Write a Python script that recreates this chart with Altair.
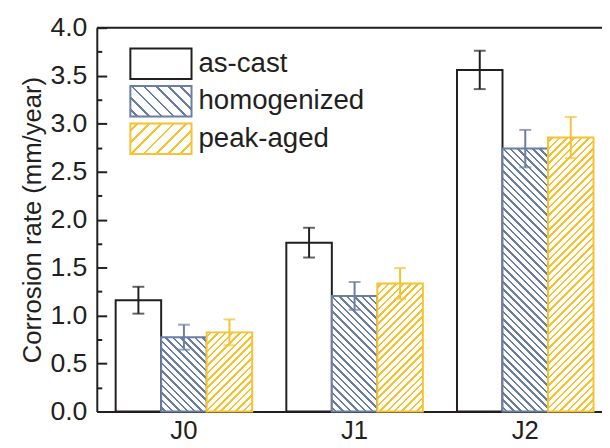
import altair as alt
import pandas as pd
import numpy as np

# ---------------- data ----------------
categories = ["J0", "J1", "J2"]
series = ["as-cast", "homogenized", "peak-aged"]
as_cast = [1.16, 1.76, 3.56]
as_cast_err = [0.14, 0.155, 0.20]
homogenized = [0.775, 1.205, 2.74]
homogenized_err = [0.13, 0.145, 0.195]
peak_aged = [0.825, 1.335, 2.855]
peak_aged_err = [0.135, 0.16, 0.215]
y_ticks = [0.0, 0.5, 1.0, 1.5, 2.0, 2.5, 3.0, 3.5, 4.0]
y_minor = [0.25, 0.75, 1.25, 1.75, 2.25, 2.75, 3.25, 3.75]

rows = []
for s, vals, errs in [("as-cast", as_cast, as_cast_err),
                      ("homogenized", homogenized, homogenized_err),
                      ("peak-aged", peak_aged, peak_aged_err)]:
    for c, v, e in zip(categories, vals, errs):
        rows.append({"cat": c, "series": s, "value": v, "err": e,
                     "lo": v - e, "hi": v + e})
df = pd.DataFrame(rows)

# ---------------- style ----------------
W, H = 512, 389
PAD = {"left": 90, "top": 17, "right": 0, "bottom": 34}
FONT = "Liberation Sans"
DARK = "#231f20"
BLUE = "#6a7ea2"
YELLOW = "#f4c232"
COLORS = {"as-cast": DARK, "homogenized": BLUE, "peak-aged": YELLOW}
P_IN, P_OUT, ALIGN = 0.2, 0.08, 0.69
step = W / (3 - P_IN + 2 * P_OUT)
bar_w = step * (1 - P_IN) / 3
px_per_unit = H / 4.0


def hatch(color, w, h, spacing, thick, kind):
    """Linear gradient with hard stops that draws 45-degree hatch lines."""
    a = (w + h) / (w * w + h * h)
    if kind == "back":   # "\\"
        x1, y1, x2, y2 = 0, 1, a * w, 1 - a * h
    else:                # "/"
        x1, y1, x2, y2 = 0, 0, a * w, a * h
    P = (w + h) / np.sqrt(2)
    stops = [{"offset": 0, "color": "white"}]
    p = spacing * 0.6
    while p - thick / 2 < P:
        t0 = max(0.0, (p - thick / 2) / P)
        t1 = min(1.0, (p + thick / 2) / P)
        for off, col in [(t0, "white"), (t0, color), (t1, color), (t1, "white")]:
            stops.append({"offset": round(off, 5), "color": col})
        p += spacing
    stops.append({"offset": 1, "color": "white"})
    return {"gradient": "linear", "x1": x1, "y1": y1,
            "x2": round(x2, 5), "y2": round(y2, 5), "stops": stops}


x_enc = alt.X("cat:N", title=None, sort=categories,
              scale=alt.Scale(paddingInner=P_IN, paddingOuter=P_OUT, align=ALIGN),
              axis=alt.Axis(orient="bottom", domain=True, domainColor=DARK, domainWidth=2,
                            ticks=False, labelFont=FONT, labelFontSize=26, labelColor=DARK,
                            labelPadding=6, labelAngle=0, grid=False))
xo_enc = alt.XOffset("series:N", sort=series,
                     scale=alt.Scale(domain=series, paddingInner=0, paddingOuter=0))
y_scale = alt.Scale(domain=[0, 4], nice=False, zero=True)

base = alt.Chart(df)
layers = []

# as-cast bars (carry the main y axis)
layers.append(
    base.transform_filter(alt.datum.series == "as-cast")
    .mark_bar(fill="white", stroke=DARK, strokeWidth=2)
    .encode(x=x_enc, xOffset=xo_enc,
            y=alt.Y("value:Q", scale=y_scale,
                    axis=alt.Axis(orient="left", values=y_ticks, format=".1f",
                                  domain=True, domainColor=DARK, domainWidth=2,
                                  ticks=False, grid=False, labelFont=FONT,
                                  labelFontSize=27, labelColor=DARK, labelPadding=10,
                                  title="Corrosion rate (mm/year)", titleFont=FONT,
                                  titleFontSize=26, titleFontWeight="normal",
                                  titleColor=DARK, titlePadding=5)))
)

# hatched bars, one layer each (gradient fill depends on bar size)
first = True
for s, kind in [("homogenized", "back"), ("peak-aged", "fwd")]:
    for c in categories:
        v = float(df[(df.series == s) & (df.cat == c)].value.iloc[0])
        grad = hatch(COLORS[s], bar_w, v * px_per_unit, 5.3, 1.8, kind)
        if first:
            y_axis = alt.Axis(orient="right", offset=-W, values=y_ticks, domain=False,
                              labels=False, ticks=True, tickSize=10, tickWidth=2,
                              tickColor=DARK, grid=False, title=None)
        elif s == "homogenized" and c == "J1":
            y_axis = alt.Axis(orient="right", offset=-W, values=y_minor, domain=False,
                              labels=False, ticks=True, tickSize=5, tickWidth=2,
                              tickColor=DARK, grid=False, title=None)
        else:
            y_axis = None
        first = False
        layers.append(
            base.transform_filter((alt.datum.series == s) & (alt.datum.cat == c))
            .mark_bar(fill=grad, stroke=COLORS[s], strokeWidth=2)
            .encode(x=x_enc, xOffset=xo_enc,
                    y=alt.Y("value:Q", scale=y_scale, axis=y_axis))
        )

# error bars
for s in series:
    sub = base.transform_filter(alt.datum.series == s)
    layers.append(
        sub.mark_rule(color=COLORS[s], strokeWidth=2)
        .encode(x=x_enc, xOffset=xo_enc,
                y=alt.Y("lo:Q", scale=y_scale, axis=None), y2="hi:Q")
    )
    for f in ["lo", "hi"]:
        layers.append(
            sub.mark_tick(color=COLORS[s], orient="horizontal", size=12, thickness=2)
            .encode(x=x_enc, xOffset=xo_enc,
                    y=alt.Y(f + ":Q", scale=y_scale, axis=None))
        )

# top frame line
one = alt.Chart(pd.DataFrame({"k": [0]}))
layers.append(
    one.mark_rule(color=DARK, strokeWidth=2)
    .encode(x=alt.value(0), x2=alt.value(W), y=alt.value(0))
)

# legend
leg_x0, leg_x1 = 34, 96
leg_tops = [21, 59, 97]
leg_h = 31
for i, s in enumerate(series):
    if s == "as-cast":
        fill = "white"
    else:
        fill = hatch(COLORS[s], leg_x1 - leg_x0, leg_h, 8.7, 2.0,
                     "back" if s == "homogenized" else "fwd")
    layers.append(
        one.mark_rect(fill=fill, stroke=COLORS[s], strokeWidth=2)
        .encode(x=alt.value(leg_x0), x2=alt.value(leg_x1),
                y=alt.value(leg_tops[i]), y2=alt.value(leg_tops[i] + leg_h))
    )
    layers.append(
        one.mark_text(text=s, align="left", baseline="middle", font=FONT,
                      fontSize=28, color=DARK)
        .encode(x=alt.value(leg_x1 + 7), y=alt.value(leg_tops[i] + leg_h / 2))
    )

chart = (
    alt.layer(*layers)
    .resolve_axis(y="independent")
    .properties(width=W, height=H, padding=PAD,
                autosize=alt.AutoSizeParams(type="none"))
    .configure_view(stroke=None)
    .configure(background="white")
)

chart.save("out.html", embed_options={"renderer": "svg", "actions": False})
